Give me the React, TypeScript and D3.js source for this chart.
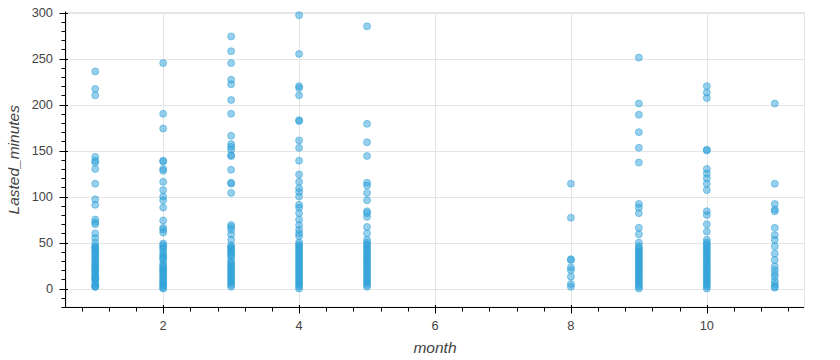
import React from "react";
import * as d3 from "d3";

const months = [1, 2, 3, 4, 5, 8, 9, 10, 11];

const m1 = [236, 217, 210, 143, 139, 137, 130, 114, 97, 91, 75, 72, 70, 60, 55, 50, 46, 45, 44, 42, 40, 38, 36, 34, 32, 30, 28, 26, 25, 23, 21, 20, 18, 16, 14, 12, 11, 10, 8, 5, 3, 2, 2];
const m2 = [245, 190, 174, 139, 138, 130, 128, 116, 107, 100, 96, 88, 74, 66, 64, 61, 49, 47, 45, 43, 40, 37, 35, 33, 31, 27, 25, 23, 21, 20, 18, 16, 14, 12, 10, 8, 6, 5, 3, 1, 0];
const m3 = [274, 258, 245, 227, 222, 205, 190, 166, 157, 154, 151, 145, 144, 129, 115, 114, 104, 69, 67, 64, 59, 53, 47, 45, 44, 42, 40, 38, 36, 34, 30, 28, 26, 24, 22, 20, 18, 16, 14, 12, 10, 8, 6, 4, 2];
const m4 = [297, 255, 220, 218, 210, 183, 182, 161, 153, 139, 124, 116, 109, 105, 100, 91, 88, 82, 75, 69, 64, 60, 57, 50, 48, 46, 44, 42, 40, 38, 36, 34, 32, 30, 28, 26, 24, 22, 20, 18, 16, 14, 12, 10, 8, 6, 4, 2, 0];
const m5 = [285, 179, 159, 144, 115, 112, 104, 96, 84, 82, 78, 67, 60, 53, 50, 48, 46, 44, 42, 40, 38, 36, 34, 32, 30, 28, 26, 24, 22, 20, 18, 16, 14, 12, 10, 8, 6, 4, 2];
const m8 = [114, 77, 32, 31, 23, 20, 13, 5, 2];
const m9 = [251, 201, 189, 170, 153, 137, 92, 88, 82, 66, 59, 50, 46, 44, 42, 40, 38, 36, 34, 32, 30, 28, 26, 24, 22, 20, 18, 16, 14, 12, 10, 8, 6, 4, 2, 0];
const m10 = [220, 213, 207, 151, 150, 130, 125, 120, 114, 107, 84, 80, 70, 62, 53, 50, 48, 46, 44, 42, 40, 38, 36, 34, 32, 30, 28, 26, 24, 22, 20, 18, 16, 14, 12, 10, 8, 6, 4, 2, 0];
const m11 = [201, 114, 92, 86, 84, 66, 58, 53, 46, 38, 31, 24, 20, 16, 13, 8, 5, 2, 1];

const minutesByMonth = [m1, m2, m3, m4, m5, m8, m9, m10, m11];

const xMajorTicks = [2, 4, 6, 8, 10];
const yMajorTicks = [0, 50, 100, 150, 200, 250, 300];

const W = 840;
const H = 360;
const left = 66;
const right = 804;
const top = 12.5;
const bottom = 307;

export default function App() {
  const x = d3.scaleLinear().domain([0.57, 11.43]).range([left, right]);
  const y = d3.scaleLinear().domain([-20, 300]).range([bottom, top]);

  const xMinor = d3.range(0.8, 11.3, 0.4).filter((v) => v >= 0.57 && v <= 11.43);
  const yMinor = d3.range(-20, 301, 10);

  const points: { m: number; v: number }[] = [];
  months.forEach((m, i) => minutesByMonth[i].forEach((v) => points.push({ m, v })));

  const font = "'Liberation Sans', Arial, Helvetica, sans-serif";
  const color = "#30a2da";

  return (
    <svg width={W} height={H} style={{ position: "absolute", left: 0, top: 0, background: "#fff" }}>
      <rect x={0} y={0} width={W} height={H} fill="#fff" />
      {xMajorTicks.map((t) => (
        <line key={"gx" + t} x1={Math.round(x(t)) + 0.5} x2={Math.round(x(t)) + 0.5} y1={top} y2={bottom} stroke="#e5e5e5" strokeWidth={1} />
      ))}
      {yMajorTicks.map((t) => (
        <line key={"gy" + t} x1={left} x2={right} y1={Math.round(y(t)) + 0.5} y2={Math.round(y(t)) + 0.5} stroke="#e5e5e5" strokeWidth={1} />
      ))}
      <rect x={left + 0.5} y={top} width={right - left} height={bottom - top} fill="none" stroke="#e5e5e5" strokeWidth={1} />
      <g>
        {points.map((p, i) => (
          <circle
            key={i}
            cx={x(p.m)}
            cy={y(p.v)}
            r={3.5}
            fill={color}
            fillOpacity={0.5}
            stroke={color}
            strokeOpacity={0.5}
            strokeWidth={1}
          />
        ))}
      </g>
      <g>
        <line x1={left} x2={right} y1={bottom + 0.5} y2={bottom + 0.5} stroke="#000" strokeWidth={1} />
        {xMinor.map((t, i) => (
          <line key={"xm" + i} x1={Math.round(x(t)) + 0.5} x2={Math.round(x(t)) + 0.5} y1={bottom} y2={bottom + 4.5} stroke="#000" strokeWidth={1} />
        ))}
        {xMajorTicks.map((t) => (
          <line key={"xM" + t} x1={Math.round(x(t)) + 0.5} x2={Math.round(x(t)) + 0.5} y1={bottom - 2} y2={bottom + 6.5} stroke="#000" strokeWidth={1} />
        ))}
        {xMajorTicks.map((t) => (
          <text key={"xl" + t} x={x(t)} y={bottom + 23} textAnchor="middle" fontFamily={font} fontSize={12.8} fill="#444">
            {t}
          </text>
        ))}
        <text x={(left + right) / 2} y={353} textAnchor="middle" fontFamily={font} fontSize={15.5} fontStyle="italic" fill="#444">
          month
        </text>
      </g>
      <g>
        <line x1={left - 0.5} x2={left - 0.5} y1={top - 1} y2={bottom + 1} stroke="#000" strokeWidth={1} />
        {yMinor.map((t) => (
          <line key={"ym" + t} x1={left - 4.5} x2={left} y1={Math.round(y(t)) + 0.5} y2={Math.round(y(t)) + 0.5} stroke="#000" strokeWidth={1} />
        ))}
        {yMajorTicks.map((t) => (
          <line key={"yM" + t} x1={left - 6.5} x2={left + 2} y1={Math.round(y(t)) + 0.5} y2={Math.round(y(t)) + 0.5} stroke="#000" strokeWidth={1} />
        ))}
        {yMajorTicks.map((t) => (
          <text key={"yl" + t} x={left - 13} y={y(t) + 4.5} textAnchor="end" fontFamily={font} fontSize={12.8} fill="#444">
            {t}
          </text>
        ))}
        <text
          transform={`translate(19, ${(top + bottom) / 2}) rotate(-90)`}
          textAnchor="middle"
          fontFamily={font}
          fontSize={15.5}
          fontStyle="italic"
          fill="#444"
        >
          Lasted_minutes
        </text>
      </g>
    </svg>
  );
}
